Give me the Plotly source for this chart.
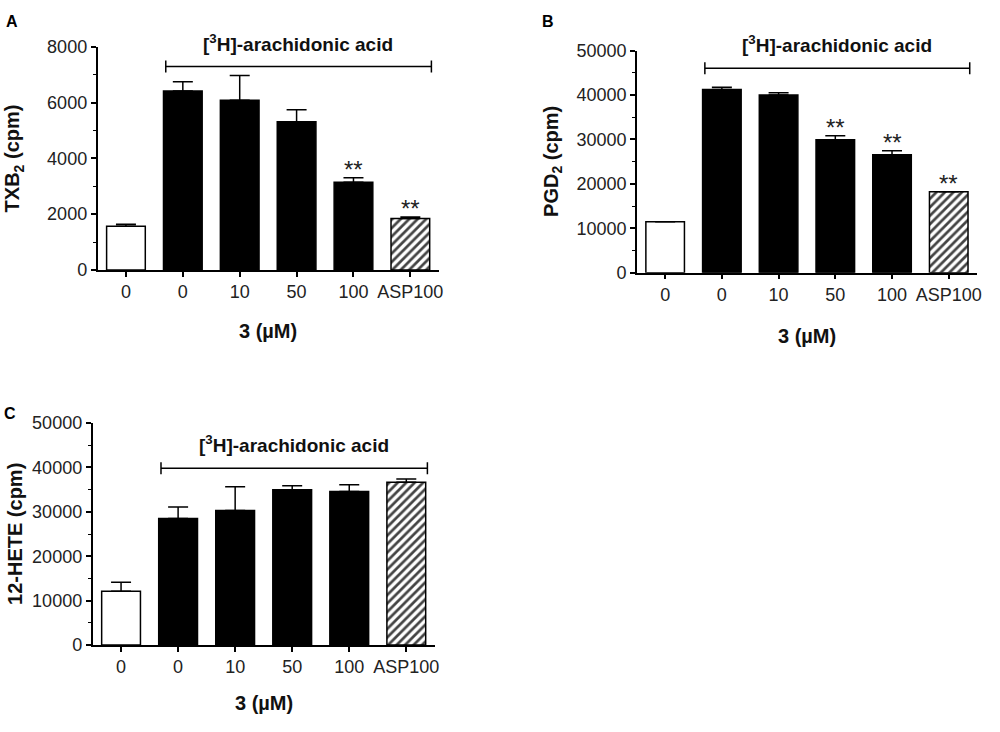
import plotly.graph_objects as go

# x categories, shared by all three panels
labels = ["0", "0", "10", "50", "100", "ASP100"]

# panel A: TXB2
txb2_mean = [1570, 6420, 6090, 5320, 3150, 1840]
txb2_err = [70, 330, 890, 430, 160, 60]
txb2_stars = ["", "", "", "", "**", "**"]

# panel B: PGD2
pgd2_mean = [11450, 41240, 40010, 29940, 26570, 18250]
pgd2_err = [0, 520, 510, 870, 870, 0]
pgd2_stars = ["", "", "", "**", "**", "**"]

# panel C: 12-HETE
hete_mean = [12130, 28470, 30310, 34980, 34600, 36660]
hete_err = [2040, 2630, 5320, 870, 1470, 730]
hete_stars = ["", "", "", "", "", ""]

FONT = "Liberation Sans, Arial, sans-serif"
bar_colors = ["white", "black", "black", "black", "black", "white"]
bar_patterns = ["", "", "", "", "", "/"]

panels = [
    dict(mean=txb2_mean, err=txb2_err, stars=txb2_stars, title="TXB<sub>2</sub> (cpm)",
         ymax=8000, dtick=2000, minor=1000, xd=[0.098, 0.441], yd=[0.635, 0.948],
         letter="A", lpos=(0.012, 0.984), br=7300, ytx=0.014, xty=0.549),
    dict(mean=pgd2_mean, err=pgd2_err, stars=pgd2_stars, title="PGD<sub>2</sub> (cpm)",
         ymax=50000, dtick=10000, minor=5000, xd=[0.640, 0.982], yd=[0.631, 0.943],
         letter="B", lpos=(0.551, 0.984), br=46000, ytx=0.555, xty=0.542),
    dict(mean=hete_mean, err=hete_err, stars=hete_stars, title="12-HETE (cpm)",
         ymax=50000, dtick=10000, minor=5000, xd=[0.093, 0.437], yd=[0.108, 0.420],
         letter="C", lpos=(0.010, 0.433), br=39800, ytx=0.015, xty=0.026),
]

fig = go.Figure()
annotations = []
shapes = []

for i, p in enumerate(panels):
    n = "" if i == 0 else str(i + 1)
    xr, yr = "x" + n, "y" + n
    fig.add_trace(go.Bar(
        x=list(range(len(labels))), y=p["mean"], xaxis=xr, yaxis=yr,
        width=0.68,
        marker=dict(color=bar_colors, line=dict(color="black", width=1.5),
                    pattern=dict(shape=bar_patterns, fgcolor="black", bgcolor="white",
                                 fgopacity=1, size=6, solidity=0.45)),
        error_y=dict(type="data", array=p["err"], arrayminus=[0] * len(p["err"]),
                     symmetric=False, color="black", thickness=1.5, width=10),
        showlegend=False,
    ))
    common_x = dict(domain=p["xd"], anchor=yr, range=[-0.5, 5.5],
                    tickvals=list(range(len(labels))), ticktext=labels,
                    showline=True, linecolor="black", linewidth=1.5,
                    ticks="outside", ticklen=5, tickwidth=1.5, tickcolor="black",
                    showgrid=False, zeroline=False,
                    tickfont=dict(family=FONT, size=18, color="#222"))
    common_y = dict(domain=p["yd"], anchor=xr, range=[0, p["ymax"]], dtick=p["dtick"],
                    tickformat="d",
                    showline=True, linecolor="black", linewidth=1.5,
                    ticks="outside", ticklen=5, tickwidth=1.5, tickcolor="black",
                    minor=dict(dtick=p["minor"], ticks="outside", ticklen=3,
                               tickwidth=1.2, tickcolor="black"),
                    showgrid=False, zeroline=False,
                    tickfont=dict(family=FONT, size=18, color="#222"))
    fig.update_layout(**{"xaxis" + n: common_x, "yaxis" + n: common_y})

    # x axis line sticks out a little left of the y axis
    shapes.append(dict(type="line", xref="paper", yref=yr, x0=p["xd"][0] - 0.006,
                       x1=p["xd"][0], y0=0, y1=0, line=dict(color="black", width=1.5)))

    # asterisks
    for j, s in enumerate(p["stars"]):
        if s:
            annotations.append(dict(x=j, y=p["mean"][j] + p["err"][j], xref=xr, yref=yr,
                                    text=s, showarrow=False, xanchor="center",
                                    yanchor="bottom", yshift=-7,
                                    font=dict(family=FONT, size=24, color="#222")))
    # bracket over treated bars
    shapes.append(dict(type="line", xref=xr, yref=yr, x0=0.7, x1=5.37,
                       y0=p["br"], y1=p["br"], line=dict(color="black", width=1.5)))
    for xe in (0.7, 5.37):
        shapes.append(dict(type="line", xref=xr, yref=yr, ysizemode="pixel",
                           yanchor=p["br"], x0=xe, x1=xe, y0=-6, y1=6,
                           line=dict(color="black", width=1.5)))
    annotations.append(dict(x=3.03, y=p["br"], xref=xr, yref=yr, yshift=24,
                            xanchor="center", yanchor="middle",
                            text="<b>[<sup>3</sup>H]-arachidonic acid</b>",
                            showarrow=False, font=dict(family=FONT, size=19, color="#111")))
    # y title
    annotations.append(dict(x=p["ytx"], y=sum(p["yd"]) / 2, xref="paper", yref="paper",
                            xanchor="center", yanchor="middle",
                            text="<b>" + p["title"] + "</b>", textangle=-90,
                            showarrow=False, font=dict(family=FONT, size=20, color="#111")))
    # x title
    annotations.append(dict(x=sum(p["xd"]) / 2, y=p["xty"], xref="paper", yref="paper",
                            xanchor="center", yanchor="middle",
                            text="<b>3 (µM)</b>", showarrow=False,
                            font=dict(family=FONT, size=20, color="#111")))
    # panel letter
    annotations.append(dict(x=p["lpos"][0], y=p["lpos"][1], xref="paper", yref="paper",
                            xanchor="center", yanchor="middle",
                            text="<b>" + p["letter"] + "</b>", showarrow=False,
                            font=dict(family=FONT, size=16, color="black")))

fig.update_layout(width=1000, height=732, margin=dict(l=0, r=0, t=0, b=0),
                  plot_bgcolor="white", paper_bgcolor="white",
                  annotations=annotations, shapes=shapes, bargap=0.3)

fig.write_html("out.html", config={"displayModeBar": False},
               post_script="document.body.style.margin='0';")
